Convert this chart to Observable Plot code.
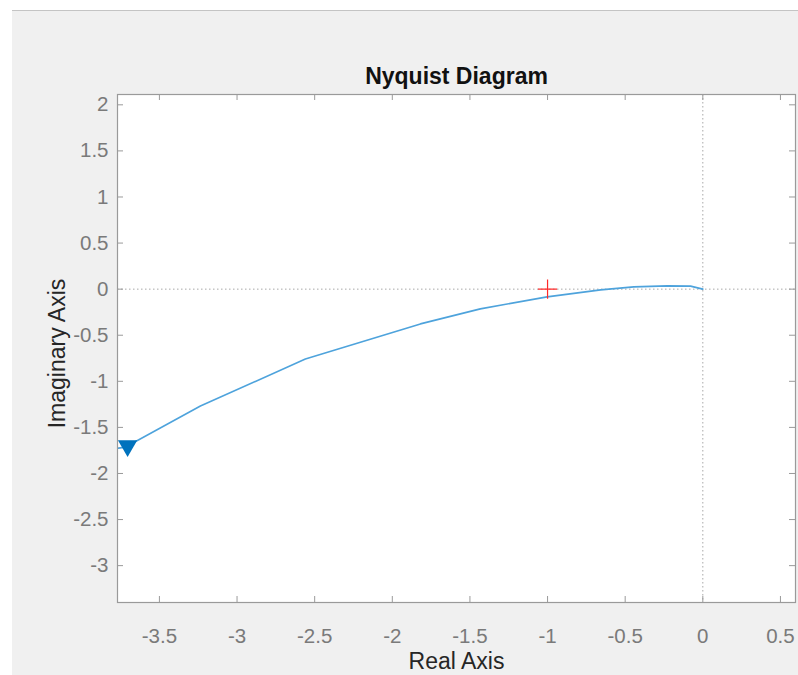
<!DOCTYPE html>
<html>
<head>
<meta charset="utf-8">
<script src="https://cdn.jsdelivr.net/npm/d3@7"></script>
<script src="https://cdn.jsdelivr.net/npm/@observablehq/plot@0.6"></script>
<style>
  html, body { margin: 0; padding: 0; background: #ffffff; width: 798px; height: 675px; overflow: hidden; }
  #bg { position: absolute; left: 12px; top: 10px; width: 786px; height: 665px; background: #f0f0f0; border-top: 1px solid #c4c4c4; }
  #chart { position: absolute; left: 0; top: 0; }
</style>
</head>
<body>
<div id="bg"></div>
<div id="chart"></div>
<script>
// Nyquist curve (real / imaginary parts)
const realPart = [-3.80, -3.721, -3.668, -3.236, -2.560, -1.819, -1.433, -1.003, -0.658, -0.445, -0.229, -0.079, 0];
const imagPart = [-1.735, -1.714, -1.667, -1.268, -0.758, -0.377, -0.214, -0.084, -0.008, 0.025, 0.036, 0.033, 0];
// arrow marker position on the curve
const arrowRe = [-3.705];
const arrowIm = [-1.70];
// critical point
const critRe = [-1];
const critIm = [0];
// axis ticks
const xTicks = [-3.5, -3, -2.5, -2, -1.5, -1, -0.5, 0, 0.5];
const yTicks = [-3, -2.5, -2, -1.5, -1, -0.5, 0, 0.5, 1, 1.5, 2];
const xDomain = [-3.77, 0.597];
const yDomain = [-3.40, 2.112];
const titleText = "Nyquist Diagram";
const xLabel = "Real Axis";
const yLabel = "Imaginary Axis";

const curve = realPart.map((r, i) => ({re: r, im: imagPart[i]}));
const arrow = arrowRe.map((r, i) => ({re: r, im: arrowIm[i]}));
const crit = critRe.map((r, i) => ({re: r, im: critIm[i]}));

const W = 798, H = 675;
const mL = 117, mR = 3, mT = 94, mB = 73;
const plotW = W - mL - mR, plotH = H - mT - mB;
const font = "'Liberation Sans', Arial, Helvetica, sans-serif";
const axisGray = "#9a9a9a";
const labelGray = "#7a7a7a";
const fmt = d => String(d);

const chart = Plot.plot({
  width: W,
  height: H,
  marginLeft: mL, marginRight: mR, marginTop: mT, marginBottom: mB,
  style: {background: "transparent", fontFamily: font, overflow: "visible"},
  x: {domain: xDomain, axis: null},
  y: {domain: yDomain, axis: null},
  marks: [
    Plot.frame({fill: "white", stroke: null}),
    Plot.ruleY([0], {stroke: "#a8a8a8", strokeDasharray: "1.5,2.5", strokeWidth: 1}),
    Plot.ruleX([0], {stroke: "#a8a8a8", strokeDasharray: "1.5,2.5", strokeWidth: 1}),
    Plot.line(curve, {x: "re", y: "im", stroke: "#4ea3dc", strokeWidth: 1.6, clip: true}),
    Plot.dot(arrow, {x: "re", y: "im", symbol: "triangle", r: 7.2, fill: "#0072bd", stroke: null, rotate: 180, clip: true}),
    Plot.dot(crit, {x: "re", y: "im", symbol: "plus", r: 6.2, stroke: "#ff2a2a", strokeWidth: 1.2}),
    // inward ticks on all four sides
    Plot.tickX(xTicks, {x: d => d, stroke: axisGray, insetTop: plotH - 6}),
    Plot.tickX(xTicks, {x: d => d, stroke: axisGray, insetBottom: plotH - 6}),
    Plot.tickY(yTicks, {y: d => d, stroke: axisGray, insetRight: plotW - 6}),
    Plot.tickY(yTicks, {y: d => d, stroke: axisGray, insetLeft: plotW - 6}),
    Plot.frame({stroke: axisGray, strokeWidth: 1.2}),
    // tick labels
    Plot.axisX(xTicks, {anchor: "bottom", tickSize: 0, tickPadding: 26, tickFormat: fmt, fontSize: 20.5, color: labelGray, label: null}),
    Plot.axisY(yTicks, {anchor: "left", tickSize: 0, tickPadding: 9, tickFormat: fmt, fontSize: 20.5, color: labelGray, label: null}),
    // title and axis labels
    Plot.text([titleText], {frameAnchor: "top", dy: -11, lineAnchor: "bottom", text: d => d, fontSize: 23, fontWeight: "bold", fill: "#111"}),
    Plot.text([xLabel], {frameAnchor: "bottom", dy: 66, lineAnchor: "bottom", text: d => d, fontSize: 23, fill: "#262626"}),
    Plot.text([yLabel], {frameAnchor: "left", textAnchor: "middle", dx: -53, dy: 5, rotate: -90, lineAnchor: "bottom", text: d => d, fontSize: 23, fill: "#262626"})
  ]
});
document.getElementById("chart").appendChild(chart);
</script>
</body>
</html>
